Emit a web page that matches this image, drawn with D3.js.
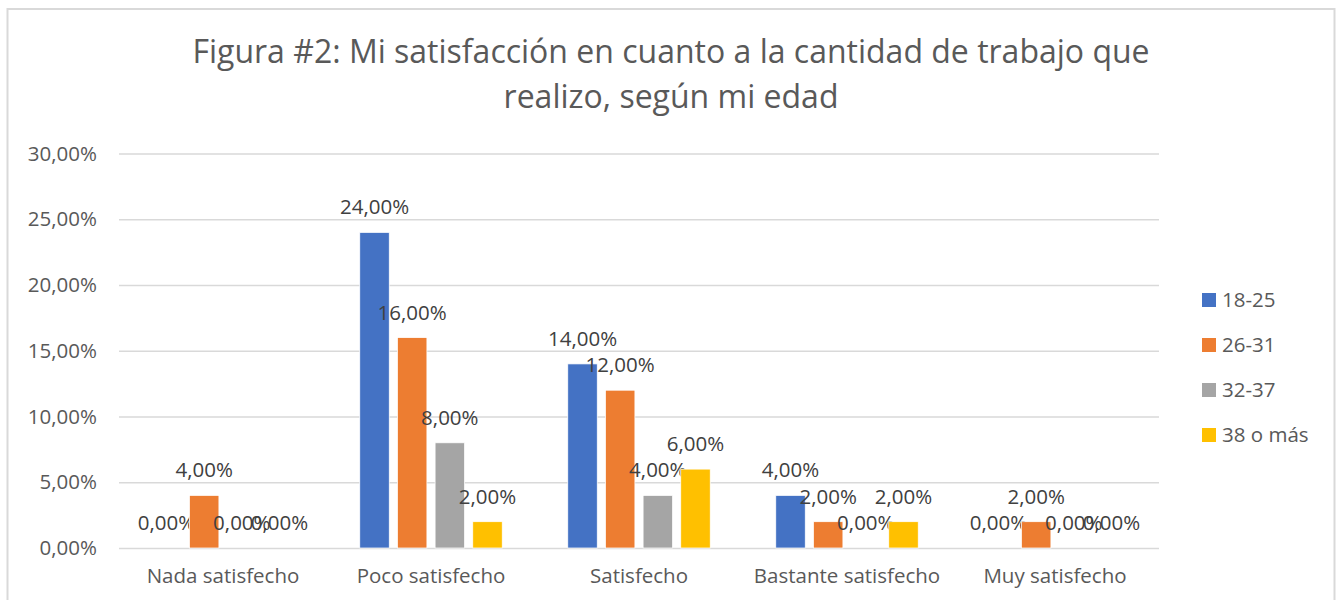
<!DOCTYPE html>
<html>
<head>
<meta charset="utf-8">
<script src="https://cdn.jsdelivr.net/npm/d3@7"></script>
<style>
  body { margin: 0; background: #fff; }
  text { font-family: "Open Sans", sans-serif; }
</style>
</head>
<body>
<svg id="chart"></svg>
<script>
const categories = ["Nada satisfecho", "Poco satisfecho", "Satisfecho", "Bastante satisfecho", "Muy satisfecho"];
const seriesNames = ["18-25", "26-31", "32-37", "38 o más"];
const values1825 = [0, 24, 14, 4, 0];
const values2631 = [4, 16, 12, 2, 2];
const values3237 = [0, 8, 4, 0, 0];
const values38 = [0, 2, 6, 2, 0];
const yTicks = [0, 5, 10, 15, 20, 25, 30];
const titleLines = ["Figura #2: Mi satisfacción en cuanto a la cantidad de trabajo que", "realizo, según mi edad"];

const seriesValues = [values1825, values2631, values3237, values38];
const colors = ["#4472C4", "#ED7D31", "#A5A5A5", "#FFC000"];

const width = 1344, height = 600;
const plot = { left: 119, right: 1159, top: 153.5, bottom: 548 };

const svg = d3.select("#chart")
    .attr("width", width)
    .attr("height", height);

// chart frame
svg.append("rect")
    .attr("x", 7.5).attr("y", 9)
    .attr("width", 1327).attr("height", 610)
    .attr("fill", "#fff")
    .attr("stroke", "#D9D9D9")
    .attr("stroke-width", 2);

// title
svg.append("g").selectAll("text")
    .data(titleLines)
    .join("text")
    .attr("x", 671)
    .attr("y", (d, i) => 63 + i * 45)
    .attr("text-anchor", "middle")
    .attr("fill", "#595959")
    .style("font-size", "32px")
    .text(d => d);

const y = d3.scaleLinear()
    .domain([0, 30])
    .range([plot.bottom, plot.top]);

const x0 = d3.scaleBand()
    .domain(categories)
    .range([plot.left, plot.right]);

const x1 = d3.scaleBand()
    .domain(seriesNames)
    .range([0, x0.bandwidth()])
    .paddingInner(0.217)
    .paddingOuter(0.87);

const fmt = v => d3.format(".2f")(v).replace(".", ",") + "%";

// gridlines + y labels
const yAxis = d3.axisLeft(y)
    .tickValues(yTicks)
    .tickSize(-(plot.right - plot.left))
    .tickPadding(22)
    .tickFormat(fmt);

svg.append("g")
    .attr("transform", `translate(${plot.left},0)`)
    .call(yAxis)
    .call(g => g.select(".domain").remove())
    .call(g => g.selectAll(".tick line").attr("stroke", "#D9D9D9").attr("stroke-width", 1.5))
    .call(g => g.selectAll(".tick text")
        .attr("fill", "#595959")
        .attr("font-family", "Open Sans")
        .style("font-size", "20.5px"));

// category labels
const xAxis = d3.axisBottom(x0).tickSize(0).tickPadding(20);
svg.append("g")
    .attr("transform", `translate(0,${plot.bottom})`)
    .call(xAxis)
    .call(g => g.select(".domain").remove())
    .call(g => g.selectAll(".tick text")
        .attr("fill", "#595959")
        .attr("font-family", "Open Sans")
        .style("font-size", "20.5px"));

// bars
const groups = svg.append("g").selectAll("g")
    .data(categories)
    .join("g")
    .attr("transform", d => `translate(${x0(d)},0)`);

const cells = groups.selectAll("g")
    .data((c, ci) => seriesNames.map((s, si) => ({ s, si, v: seriesValues[si][ci] })))
    .join("g");

cells.append("rect")
    .attr("x", d => x1(d.s))
    .attr("y", d => y(d.v))
    .attr("width", x1.bandwidth())
    .attr("height", d => y(0) - y(d.v))
    .attr("fill", d => colors[d.si])
    .attr("stroke", "#fff")
    .attr("stroke-width", 0.75);

// data labels (zero labels overlap in the original too)
cells.append("text")
    .attr("x", d => x1(d.s) + x1.bandwidth() / 2)
    .attr("y", d => y(d.v) - 18)
    .attr("text-anchor", "middle")
    .attr("fill", "#404040")
    .style("font-size", "20.5px")
    .text(d => fmt(d.v));

// legend
const legend = svg.append("g").selectAll("g")
    .data(seriesNames)
    .join("g")
    .attr("transform", (d, i) => `translate(1202,${300 + i * 45})`);

legend.append("rect")
    .attr("x", 0).attr("y", -7)
    .attr("width", 14).attr("height", 14)
    .attr("fill", (d, i) => colors[i]);

legend.append("text")
    .attr("x", 20)
    .attr("y", 0)
    .attr("dy", "0.35em")
    .attr("fill", "#595959")
    .style("font-size", "20.5px")
    .text(d => d);
</script>
</body>
</html>
